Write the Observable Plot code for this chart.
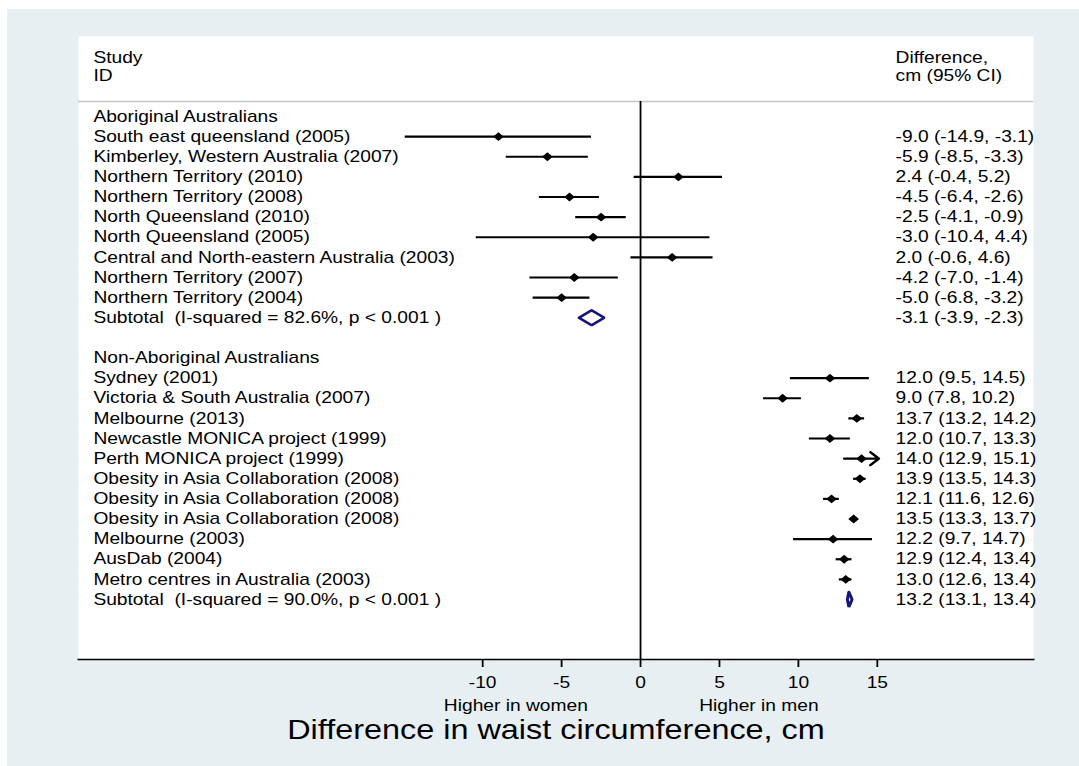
<!DOCTYPE html>
<html><head><meta charset="utf-8">
<script src="https://cdn.jsdelivr.net/npm/d3@7"></script>
<script src="https://cdn.jsdelivr.net/npm/@observablehq/plot@0.6"></script>
<style>
html,body{margin:0;padding:0;background:#ffffff;}
#bg{position:absolute;left:7px;top:9px;width:1072px;height:757px;background:#e8eff2;overflow:hidden;}
#bg svg{transform:scaleX(1.2);transform-origin:0 0;display:block;}
#bg svg text{white-space:pre;}
</style></head><body><div id="bg"></div>
<script>
// ---------- data ----------
const groupNames = ["Aboriginal Australians", "Non-Aboriginal Australians"];

const aboriginalStudies = [
  "South east queensland (2005)",
  "Kimberley, Western Australia (2007)",
  "Northern Territory (2010)",
  "Northern Territory (2008)",
  "North Queensland (2010)",
  "North Queensland (2005)",
  "Central and North-eastern Australia (2003)",
  "Northern Territory (2007)",
  "Northern Territory (2004)"
];
const aboriginalEst = [-9.0, -5.9, 2.4, -4.5, -2.5, -3.0, 2.0, -4.2, -5.0];
const aboriginalLo  = [-14.9, -8.5, -0.4, -6.4, -4.1, -10.4, -0.6, -7.0, -6.8];
const aboriginalHi  = [-3.1, -3.3, 5.2, -2.6, -0.9, 4.4, 4.6, -1.4, -3.2];

const nonAboriginalStudies = [
  "Sydney (2001)",
  "Victoria & South Australia (2007)",
  "Melbourne (2013)",
  "Newcastle MONICA project (1999)",
  "Perth MONICA project (1999)",
  "Obesity in Asia Collaboration (2008)",
  "Obesity in Asia Collaboration (2008)",
  "Obesity in Asia Collaboration (2008)",
  "Melbourne (2003)",
  "AusDab (2004)",
  "Metro centres in Australia (2003)"
];
const nonAboriginalEst = [12.0, 9.0, 13.7, 12.0, 14.0, 13.9, 12.1, 13.5, 12.2, 12.9, 13.0];
const nonAboriginalLo  = [9.5, 7.8, 13.2, 10.7, 12.9, 13.5, 11.6, 13.3, 9.7, 12.4, 12.6];
const nonAboriginalHi  = [14.5, 10.2, 14.2, 13.3, 15.1, 14.3, 12.6, 13.7, 14.7, 13.4, 13.4];

const subtotalLabels = [
  "Subtotal  (I-squared = 82.6%, p < 0.001 )",
  "Subtotal  (I-squared = 90.0%, p < 0.001 )"
];
const subtotalEst = [-3.1, 13.2];
const subtotalLo  = [-3.9, 13.1];
const subtotalHi  = [-2.3, 13.4];

const xTicks = [-10, -5, 0, 5, 10, 15];
const headerLeft = ["Study", "ID"];
const headerRight = ["Difference,", "cm (95% CI)"];
const favourLabels = ["Higher in women", "Higher in men"];
const xTitle = "Difference in waist circumference, cm";

// ---------- build rows ----------
const rows = [];
let r = 0;
function addGroup(gi, labels, est, lo, hi) {
  rows.push({row: r++, label: groupNames[gi], kind: "header"});
  labels.forEach((l, i) => rows.push({row: r++, label: l, est: est[i], lo: lo[i], hi: hi[i], kind: "study"}));
  rows.push({row: r++, label: subtotalLabels[gi], est: subtotalEst[gi], lo: subtotalLo[gi], hi: subtotalHi[gi], kind: "subtotal"});
}
addGroup(0, aboriginalStudies, aboriginalEst, aboriginalLo, aboriginalHi);
r++;
addGroup(1, nonAboriginalStudies, nonAboriginalEst, nonAboriginalLo, nonAboriginalHi);

const fmt = v => v.toFixed(1);
const valued = rows.filter(d => d.kind !== "header");
valued.forEach(d => d.text = `${fmt(d.est)} (${fmt(d.lo)}, ${fmt(d.hi)})`);
const xMax = d3.max(xTicks);
const studies = rows.filter(d => d.kind === "study");
const inRange = studies.filter(d => d.hi <= xMax);
const overRange = studies.filter(d => d.hi > xMax);
const subs = rows.filter(d => d.kind === "subtotal");
const h = 0.37;
const diamondPts = subs.flatMap(d =>
  [[d.lo, d.row], [d.est, d.row - h], [d.hi, d.row], [d.est, d.row + h], [d.lo, d.row], [d.est, d.row - h]]
    .map(([x, y]) => ({x, y, id: d.label})));

const sepY = -0.75;
const yDomain = [26.98, -3.975];
const navy = "#16167a";

const plot = Plot.plot({
  width: 893,
  height: 757,
  marginLeft: 59,
  marginRight: 38,
  marginTop: 27,
  marginBottom: 107,
  x: {domain: [-35.61, 24.90]},
  y: {domain: yDomain, axis: null},
  style: {background: "transparent", color: "black", fontFamily: "'Liberation Sans', Arial, Helvetica, sans-serif", fontSize: "16px", overflow: "visible"},
  marks: [
    Plot.frame({fill: "white", stroke: "none"}),
    Plot.ruleY([sepY], {stroke: "#c4c4c4", strokeWidth: 1.5}),
    Plot.ruleX([0], {y1: sepY, y2: yDomain[0], stroke: "black", strokeWidth: 1.5}),
    Plot.ruleY(inRange, {y: "row", x1: "lo", x2: "hi", stroke: "black", strokeWidth: 2.2}),
    Plot.arrow(overRange, {x1: "lo", x2: "hi", y1: "row", y2: "row", stroke: "black", strokeWidth: 2.2, headLength: 11, headAngle: 85}),
    Plot.dot(studies, {x: "est", y: "row", symbol: "diamond2", r: 4, fill: "black", stroke: "none"}),
    Plot.line(diamondPts, {x: "x", y: "y", z: "id", stroke: navy, strokeWidth: 2.5, strokeLinejoin: "miter", curve: "linear"}),
    Plot.text(rows, {y: "row", text: "label", frameAnchor: "left", dx: 12.5, textAnchor: "start", fill: "black", fontSize: 16}),
    Plot.text(valued, {y: "row", text: "text", frameAnchor: "right", dx: -115, textAnchor: "start", fill: "black", fontSize: 16}),
    Plot.text([headerLeft.join("\n")], {frameAnchor: "top-left", dx: 12.5, dy: 13, lineAnchor: "top", lineHeight: 1.15, textAnchor: "start", fill: "black", fontSize: 16}),
    Plot.text([headerRight.join("\n")], {frameAnchor: "top-right", dx: -115, dy: 13, lineAnchor: "top", lineHeight: 1.15, textAnchor: "start", fill: "black", fontSize: 16}),
    Plot.frame({anchor: "bottom", stroke: "black", strokeWidth: 1.6}),
    Plot.axisX({ticks: xTicks, tickSize: 8, tickPadding: 9, tickFormat: d => String(d), label: null, fontSize: 16, stroke: "black", strokeWidth: 1.5, fill: "black"}),
    Plot.text([favourLabels[0]], {x: -7.9, frameAnchor: "bottom", dy: 46, lineAnchor: "middle", fill: "black", fontSize: 16}),
    Plot.text([favourLabels[1]], {x: 7.5, frameAnchor: "bottom", dy: 46, lineAnchor: "middle", fill: "black", fontSize: 16}),
    Plot.text([xTitle], {frameAnchor: "bottom", dy: 71, lineAnchor: "middle", fill: "black", fontSize: 27})
  ]
});
document.getElementById("bg").appendChild(plot);
</script>
</body></html>
